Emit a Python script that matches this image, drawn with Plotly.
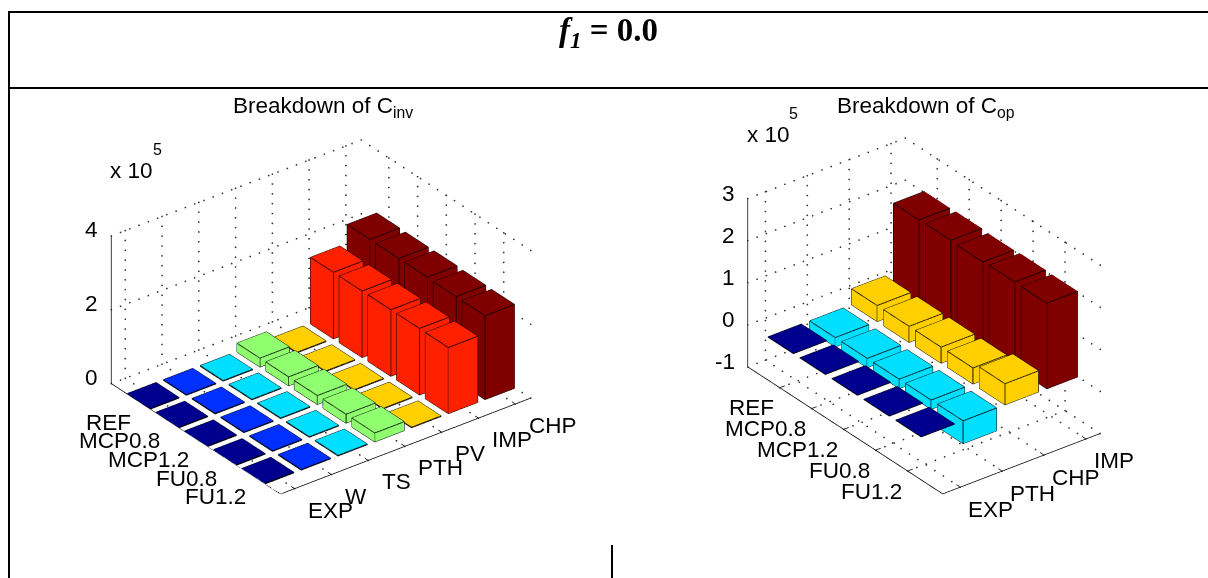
import math
import plotly.graph_objects as go

# ---- data ----
rows = ["REF", "MCP0.8", "MCP1.2", "FU0.8", "FU1.2"]

inv_cats = ["EXP", "W", "TS", "PTH", "PV", "IMP", "CHP"]
inv_colors = ["#00008F", "#0030FF", "#00DFFF", "#8FFF70", "#FFCF00", "#FF2000", "#800000"]
inv_exp = [0.015, 0.015, 0.015, 0.015, 0.015]
inv_w = [0.015, 0.015, 0.015, 0.015, 0.015]
inv_ts = [0.015, 0.015, 0.015, 0.015, 0.015]
inv_pth = [0.24, 0.24, 0.24, 0.24, 0.24]
inv_pv = [0.015, 0.015, 0.015, 0.015, 0.015]
inv_imp = [1.8, 1.8, 1.8, 1.8, 1.79]
inv_chp = [2.31, 2.3, 2.3, 2.28, 2.27]
inv_values = [inv_exp, inv_w, inv_ts, inv_pth, inv_pv, inv_imp, inv_chp]
inv_zticks = [0, 2, 4]

op_cats = ["EXP", "PTH", "CHP", "IMP"]
op_colors = ["#00008F", "#00DFFF", "#FFCF00", "#800000"]
op_exp = [0.0, 0.0, 0.0, 0.0, 0.0]
op_pth = [-0.22, -0.22, -0.22, -0.22, -0.54]
op_chp = [0.38, 0.38, 0.38, 0.38, 0.5]
op_imp = [2.03, 2.04, 2.02, 2.04, 2.03]
op_values = [op_exp, op_pth, op_chp, op_imp]
op_zticks = [-1, 0, 1, 2, 3]

W, H = 1208, 578
LABEL = dict(family="Liberation Sans, Arial, sans-serif", size=22.5, color="#000000")
BAR_W = 0.8
AZ, EL = math.radians(37.5), math.radians(30)
EYE_D = 1.0
DOT_GAP = 10.0


def box_mesh(xc, yc, color, name):
    X, Y, Z, I, J, K = [], [], [], [], [], []
    lx, ly, lz = [], [], []
    h = BAR_W / 2
    for n, (xx, yy) in enumerate(zip(xc[0], xc[1])):
        v = yc[n]
        lo, hi = min(0, v), max(0, v)
        b = len(X)
        for zz in (lo, hi):
            X += [xx - h, xx + h, xx + h, xx - h]
            Y += [yy - h, yy - h, yy + h, yy + h]
            Z += [zz] * 4
        faces = [(0, 1, 2), (0, 2, 3), (4, 5, 6), (4, 6, 7), (0, 1, 5), (0, 5, 4),
                 (1, 2, 6), (1, 6, 5), (2, 3, 7), (2, 7, 6), (3, 0, 4), (3, 4, 7)]
        for f in faces:
            I.append(b + f[0]); J.append(b + f[1]); K.append(b + f[2])
        for zz in (hi, lo):
            lx += [xx - h, xx + h, xx + h, xx - h, xx - h, None]
            ly += [yy - h, yy - h, yy + h, yy + h, yy - h, None]
            lz += [zz] * 5 + [None]
        for a, c in ((-h, -h), (h, -h), (h, h), (-h, h)):
            lx += [xx + a, xx + a, None]
            ly += [yy + c, yy + c, None]
            lz += [lo, hi, None]
    mesh = go.Mesh3d(x=X, y=Y, z=Z, i=I, j=J, k=K, color=color, name=name, flatshading=True,
                     lighting=dict(ambient=1, diffuse=0, specular=0, fresnel=0, roughness=1),
                     hoverinfo="skip", showscale=False)
    edge = go.Scatter3d(x=lx, y=ly, z=lz, mode="lines", line=dict(color="#000000", width=1.7),
                        hoverinfo="skip", showlegend=False)
    return [mesh, edge]


def frame(xr, yr, zr, zticks, ncat, sx, sy, L):
    xt = list(range(1, ncat + 1))
    yt = list(range(1, len(rows) + 1))
    gx, gy, gz = [], [], []
    ux, uy, uz = L[0] / (xr[1] - xr[0]), L[1] / (yr[1] - yr[0]), L[2] / (zr[1] - zr[0])
    h = BAR_W / 2 + 0.03

    def under_bar(p):
        # bars standing on the floor hide the floor grid below them
        if zr[0] != 0 or p[2] != zr[0]:
            return False
        return (0.5 < p[0] < ncat + 0.5 and 0.5 < p[1] < len(rows) + 0.5
                and abs(p[0] - round(p[0])) <= h and abs(p[1] - round(p[1])) <= h)

    def seg(a, b):
        # dotted grid line: one point every DOT_GAP screen pixels
        px = (b[0] - a[0]) * ux * math.cos(AZ) + (b[1] - a[1]) * uy * math.sin(AZ)
        py = ((b[0] - a[0]) * ux * math.sin(AZ) - (b[1] - a[1]) * uy * math.cos(AZ)) * math.sin(EL) \
            + (b[2] - a[2]) * uz * math.cos(EL)
        m = max(1, round(math.hypot(px, py) / DOT_GAP))
        for i in range(m + 1):
            t = i / m
            p = (a[0] + (b[0] - a[0]) * t, a[1] + (b[1] - a[1]) * t, a[2] + (b[2] - a[2]) * t)
            if not under_bar(p):
                gx.append(p[0]); gy.append(p[1]); gz.append(p[2])
    for t in xt:
        seg((t, yr[0], zr[0]), (t, yr[1], zr[0]))
        seg((t, yr[0], zr[0]), (t, yr[0], zr[1]))
    for t in yt:
        seg((xr[0], t, zr[0]), (xr[1], t, zr[0]))
        seg((xr[1], t, zr[0]), (xr[1], t, zr[1]))
    for t in zticks:
        seg((xr[0], yr[0], t), (xr[1], yr[0], t))
        seg((xr[1], yr[0], t), (xr[1], yr[1], t))
    grid = go.Scatter3d(x=gx, y=gy, z=gz, mode="markers", hoverinfo="skip", showlegend=False,
                        marker=dict(color="#333333", size=1, line=dict(width=0)))
    ax, ay, az = [], [], []

    def sega(a, b):
        ax.extend([a[0], b[0], None]); ay.extend([a[1], b[1], None]); az.extend([a[2], b[2], None])
    sega((xr[0], yr[0], zr[0]), (xr[0], yr[0], zr[1]))
    sega((xr[0], yr[0], zr[0]), (xr[0], yr[1], zr[0]))
    sega((xr[0], yr[1], zr[0]), (xr[1], yr[1], zr[0]))
    for t in xt:
        sega((t, yr[1], zr[0]), (t, yr[1] - sy, zr[0]))
    for t in yt:
        sega((xr[0], t, zr[0]), (xr[0] + sx, t, zr[0]))
    for t in zticks:
        sega((xr[0], yr[0], t), (xr[0], yr[0] - sy, t))
    axis = go.Scatter3d(x=ax, y=ay, z=az, mode="lines", hoverinfo="skip", showlegend=False,
                        line=dict(color="#000000", width=1.5))
    return [grid, axis]


def labels(cats, zticks, xr, yr, zr, xoff, yoff, zoff):
    out = []
    for n, c in enumerate(rows):
        out.append(dict(x=xr[0], y=n + 1, z=zr[0], text=c, showarrow=False, font=LABEL,
                        xanchor="right", yanchor="middle", xshift=yoff[0], yshift=yoff[1]))
    for n, c in enumerate(cats):
        out.append(dict(x=n + 1, y=yr[1], z=zr[0], text=c, showarrow=False, font=LABEL,
                        xanchor="left", yanchor="middle", xshift=xoff[0], yshift=xoff[1]))
    for t in zticks:
        out.append(dict(x=xr[0], y=yr[0], z=t, text=str(t), showarrow=False, font=LABEL,
                        xanchor="right", yanchor="middle", xshift=zoff[0], yshift=zoff[1]))
    return out


def scene(cx, cy, w, h, xr, yr, zr, L, annots):
    k = SCALE
    return dict(
        domain=dict(x=[(cx - w / 2) / W, (cx + w / 2) / W], y=[1 - (cy + h / 2) / H, 1 - (cy - h / 2) / H]),
        xaxis=dict(visible=False, range=list(xr)),
        yaxis=dict(visible=False, range=[yr[1], yr[0]]),
        zaxis=dict(visible=False, range=list(zr)),
        aspectmode="manual",
        aspectratio=dict(x=L[0] * k, y=L[1] * k, z=L[2] * k),
        camera=dict(projection=dict(type="orthographic"),
                    up=dict(x=0, y=0, z=1), center=dict(x=0, y=0, z=0),
                    eye=dict(x=-math.sin(AZ) * math.cos(EL) * EYE_D,
                             y=-math.cos(AZ) * math.cos(EL) * EYE_D,
                             z=math.sin(EL) * EYE_D)),
        bgcolor="rgba(0,0,0,0)",
        annotations=annots,
    )


SCALE = 1.36 / 300.0
L1, L2 = (316, 279, 171), (199, 321, 195)
fig = go.Figure()

# left panel
xr1, yr1, zr1 = (0.62, 7.42), (0.04, 5.94), (0, 4)
for n, c in enumerate(inv_cats):
    pos = ([n + 1] * len(rows), list(range(1, len(rows) + 1)))
    for tr in box_mesh(pos, inv_values[n], inv_colors[n], c):
        tr.scene = "scene"
        fig.add_trace(tr)
for tr in frame(xr1, yr1, zr1, inv_zticks, len(inv_cats), 0.12, 0.12, L1):
    tr.scene = "scene"
    fig.add_trace(tr)

# right panel
xr2, yr2, zr2 = (0.58, 4.34), (0.0, 6.1), (-1, 3)
for n, c in enumerate(op_cats):
    pos = ([n + 1] * len(rows), list(range(1, len(rows) + 1)))
    for tr in box_mesh(pos, op_values[n], op_colors[n], c):
        tr.scene = "scene2"
        fig.add_trace(tr)
for tr in frame(xr2, yr2, zr2, op_zticks, len(op_cats), 0.12, 0.12, L2):
    tr.scene = "scene2"
    fig.add_trace(tr)

line = dict(color="#000000", width=2)
shapes = [
    dict(type="line", xref="paper", yref="paper", x0=8 / W, x1=1, y0=1 - 12 / H, y1=1 - 12 / H, line=line),
    dict(type="line", xref="paper", yref="paper", x0=8 / W, x1=1, y0=1 - 88 / H, y1=1 - 88 / H, line=line),
    dict(type="line", xref="paper", yref="paper", x0=9 / W, x1=9 / W, y0=0, y1=1 - 11 / H, line=line),
    dict(type="line", xref="paper", yref="paper", x0=612 / W, x1=612 / W, y0=0, y1=1 - 545 / H, line=line),
]


def txt(px, py, s, size=22.5, anchor="left", family="Liberation Sans, Arial, sans-serif"):
    return dict(xref="paper", yref="paper", x=px / W, y=1 - py / H, text=s, showarrow=False,
                xanchor=anchor, yanchor="middle", font=dict(family=family, size=size, color="#000000"))


annotations = [
    txt(608, 33, "<b><i>f<sub>1</sub></i> = 0.0</b>", 33, "center", "Liberation Serif, Times New Roman, serif"),
    txt(231, 107, "Breakdown of C<sub>inv</sub>"),
    txt(835, 107, "Breakdown of C<sub>op</sub>"),
    txt(108, 170, "x 10"),
    txt(157, 149, "5", 16, "center"),
    txt(745, 134, "x 10"),
    txt(793, 113, "5", 16, "center"),
]

fig.update_layout(
    width=W, height=H, margin=dict(l=0, r=0, t=0, b=0), showlegend=False,
    paper_bgcolor="#FFFFFF", plot_bgcolor="#FFFFFF",
    shapes=shapes, annotations=annotations,
    scene=scene(320.5, 316.5, 520, 440, xr1, yr1, zr1, L1,
                labels(inv_cats, inv_zticks, xr1, yr1, zr1, (12, -22), (-5, -21), (-11, 6))),
    scene2=scene(923.5, 316, 440, 440, xr2, yr2, zr2, L2,
                 labels(op_cats, op_zticks, xr2, yr2, zr2, (6.5, -22), (-3, -20), (-10, 5))),
)
fig.write_html("out.html", config=dict(displayModeBar=False),
               post_script="document.body.style.margin='0';document.body.style.overflow='hidden';")
